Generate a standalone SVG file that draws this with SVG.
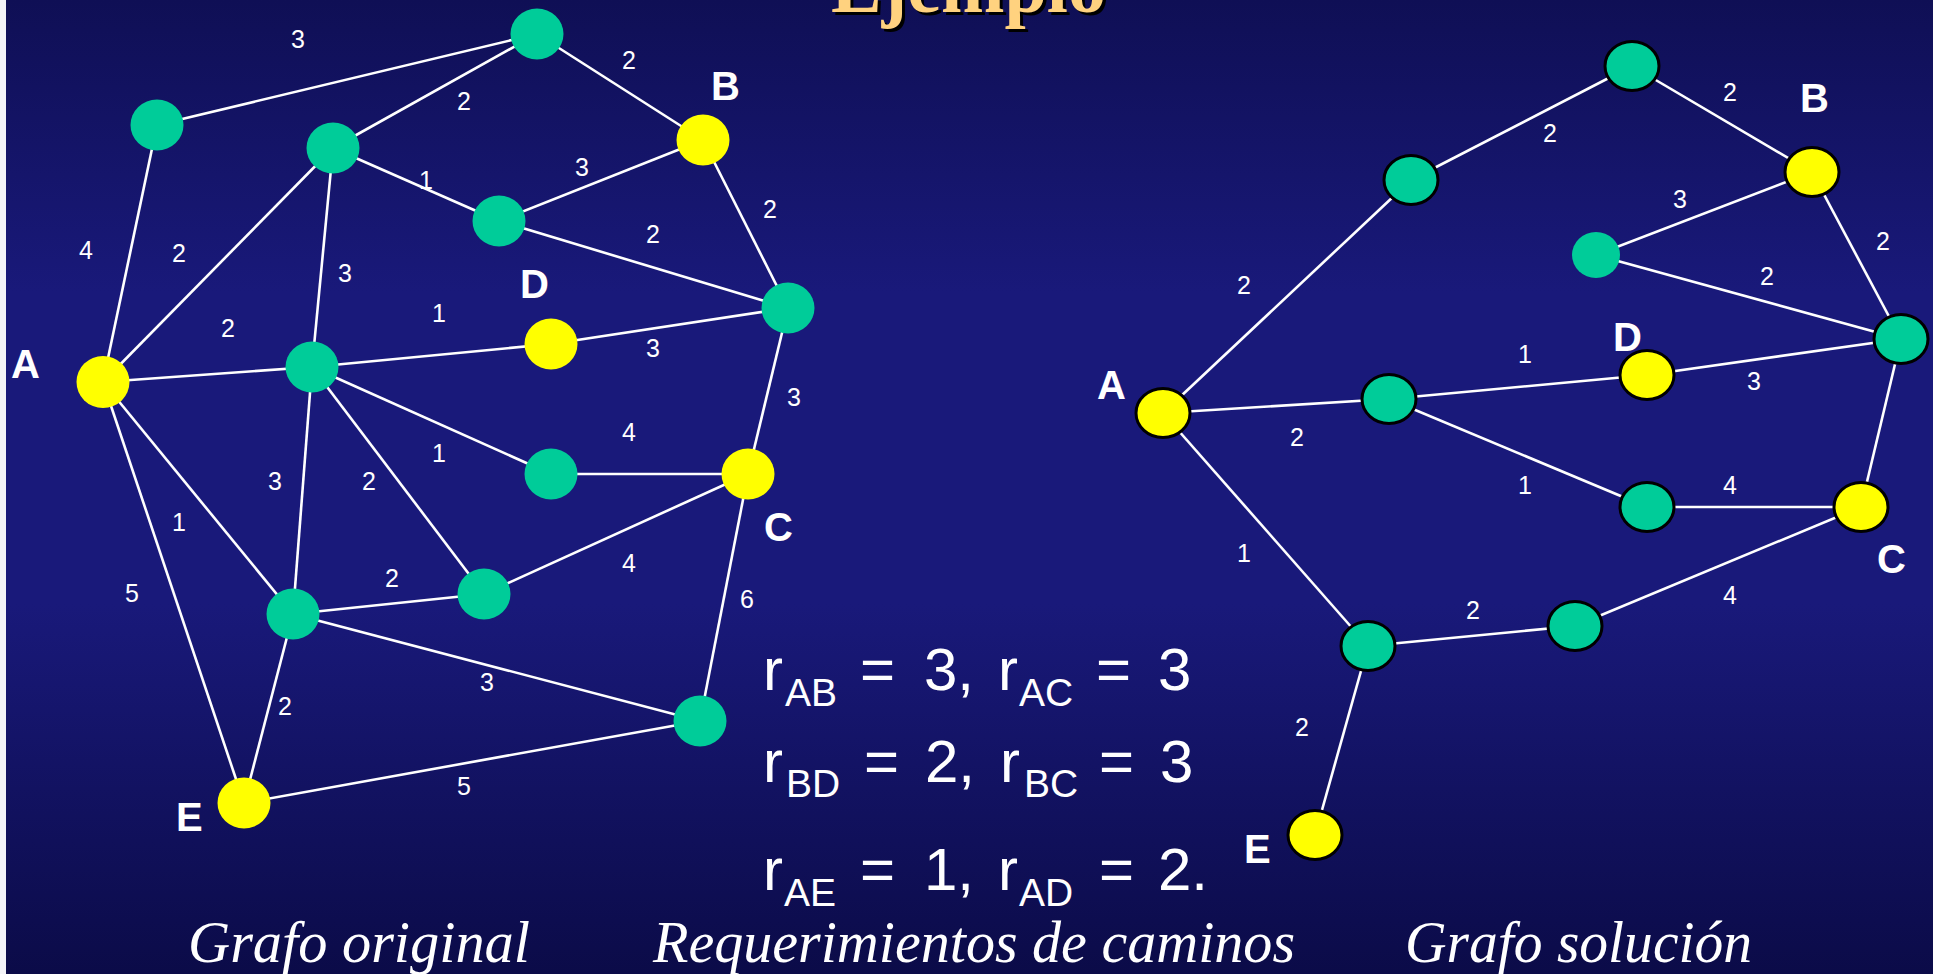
<svg xmlns="http://www.w3.org/2000/svg" width="1933" height="974" viewBox="0 0 1933 974">
<defs>
<linearGradient id="bg" x1="0" y1="0" x2="0" y2="1">
<stop offset="0" stop-color="#0f0f55"/>
<stop offset="0.3" stop-color="#19197a"/>
<stop offset="0.62" stop-color="#19197a"/>
<stop offset="1" stop-color="#0b0b48"/>
</linearGradient>
</defs>
<style>
.e{stroke:#ffffff;stroke-width:2.6;fill:none}
.g{fill:#00cc99}
.y{fill:#ffff00}
.o{stroke:#000000;stroke-width:3}
.w{font-family:"Liberation Sans",Arial,sans-serif;font-size:25px;fill:#ffffff;text-anchor:middle}
.n{font-family:"Liberation Sans",Arial,sans-serif;font-size:40px;font-weight:bold;fill:#ffffff}
.m{font-family:"Liberation Sans",Arial,sans-serif;font-size:60px;fill:#ffffff}
.s{font-size:39px}
.c{font-family:"Liberation Serif","Times New Roman",serif;font-size:60px;font-style:italic;fill:#ffffff}
.t{font-family:"Liberation Serif","Times New Roman",serif;font-size:78px;font-weight:bold}
</style>
<rect x="0" y="0" width="1933" height="974" fill="url(#bg)"/>
<rect x="0" y="0" width="6" height="974" fill="#f4f4f8"/>

<g id="title">
<text class="t" x="834" y="15" textLength="275" lengthAdjust="spacingAndGlyphs" fill="#000000">Ejemplo</text>
<text class="t" x="831" y="12" textLength="275" lengthAdjust="spacingAndGlyphs" fill="#ffd27f">Ejemplo</text>
</g>

<g id="connectors-original">
<line class="e" x1="157" y1="125" x2="537" y2="34"/>
<line class="e" x1="537" y1="34" x2="333" y2="148"/>
<line class="e" x1="537" y1="34" x2="703" y2="140"/>
<line class="e" x1="157" y1="125" x2="103" y2="382"/>
<line class="e" x1="333" y1="148" x2="103" y2="382"/>
<line class="e" x1="333" y1="148" x2="499" y2="221"/>
<line class="e" x1="333" y1="148" x2="312" y2="367"/>
<line class="e" x1="499" y1="221" x2="703" y2="140"/>
<line class="e" x1="499" y1="221" x2="788" y2="308"/>
<line class="e" x1="703" y1="140" x2="788" y2="308"/>
<line class="e" x1="103" y1="382" x2="312" y2="367"/>
<line class="e" x1="312" y1="367" x2="551" y2="344"/>
<line class="e" x1="551" y1="344" x2="788" y2="308"/>
<line class="e" x1="788" y1="308" x2="748" y2="474"/>
<line class="e" x1="312" y1="367" x2="551" y2="474"/>
<line class="e" x1="551" y1="474" x2="748" y2="474"/>
<line class="e" x1="312" y1="367" x2="293" y2="614"/>
<line class="e" x1="312" y1="367" x2="484" y2="594"/>
<line class="e" x1="103" y1="382" x2="293" y2="614"/>
<line class="e" x1="103" y1="382" x2="244" y2="803"/>
<line class="e" x1="293" y1="614" x2="484" y2="594"/>
<line class="e" x1="484" y1="594" x2="748" y2="474"/>
<line class="e" x1="748" y1="474" x2="700" y2="721"/>
<line class="e" x1="293" y1="614" x2="700" y2="721"/>
<line class="e" x1="293" y1="614" x2="244" y2="803"/>
<line class="e" x1="244" y1="803" x2="700" y2="721"/>
</g>

<g id="edge-labels-original">
<text class="w" x="298" y="48">3</text>
<text class="w" x="464" y="110">2</text>
<text class="w" x="629" y="69">2</text>
<text class="w" x="86" y="259">4</text>
<text class="w" x="179" y="262">2</text>
<text class="w" x="426" y="189">1</text>
<text class="w" x="582" y="176">3</text>
<text class="w" x="770" y="218">2</text>
<text class="w" x="653" y="243">2</text>
<text class="w" x="345" y="282">3</text>
<text class="w" x="439" y="322">1</text>
<text class="w" x="228" y="337">2</text>
<text class="w" x="653" y="357">3</text>
<text class="w" x="794" y="406">3</text>
<text class="w" x="629" y="441">4</text>
<text class="w" x="439" y="462">1</text>
<text class="w" x="275" y="490">3</text>
<text class="w" x="369" y="490">2</text>
<text class="w" x="179" y="531">1</text>
<text class="w" x="132" y="602">5</text>
<text class="w" x="392" y="587">2</text>
<text class="w" x="629" y="572">4</text>
<text class="w" x="747" y="608">6</text>
<text class="w" x="487" y="691">3</text>
<text class="w" x="285" y="715">2</text>
<text class="w" x="464" y="795">5</text>
</g>

<g id="L-top"><ellipse class="g" cx="537" cy="34" rx="26.5" ry="25.5"/></g>
<g id="L-left"><ellipse class="g" cx="157" cy="125" rx="26.5" ry="25.5"/></g>
<g id="L-n3"><ellipse class="g" cx="333" cy="148" rx="26.5" ry="25.5"/></g>
<g id="L-B"><ellipse class="y" cx="703" cy="140" rx="26.5" ry="25.5"/><text class="n" x="711" y="100">B</text></g>
<g id="L-n5"><ellipse class="g" cx="499" cy="221" rx="26.5" ry="25.5"/></g>
<g id="L-n6"><ellipse class="g" cx="788" cy="308" rx="26.5" ry="25.5"/></g>
<g id="L-A"><ellipse class="y" cx="103" cy="382" rx="26.5" ry="26"/><text class="n" x="11" y="378">A</text></g>
<g id="L-center"><ellipse class="g" cx="312" cy="367" rx="26.5" ry="25.5"/></g>
<g id="L-D"><ellipse class="y" cx="551" cy="344" rx="26.5" ry="25.5"/><text class="n" x="520" y="298">D</text></g>
<g id="L-n10"><ellipse class="g" cx="551" cy="474" rx="26.5" ry="25.5"/></g>
<g id="L-C"><ellipse class="y" cx="748" cy="474" rx="26.5" ry="25.5"/><text class="n" x="764" y="541">C</text></g>
<g id="L-n12"><ellipse class="g" cx="293" cy="614" rx="26.5" ry="25.5"/></g>
<g id="L-n13"><ellipse class="g" cx="484" cy="594" rx="26.5" ry="25.5"/></g>
<g id="L-n14"><ellipse class="g" cx="700" cy="721" rx="26.5" ry="25.5"/></g>
<g id="L-E"><ellipse class="y" cx="244" cy="803" rx="26.5" ry="25.5"/><text class="n" x="176" y="831">E</text></g>

<g id="connectors-solution">
<line class="e" x1="1163" y1="413" x2="1411" y2="180"/>
<line class="e" x1="1411" y1="180" x2="1632" y2="66"/>
<line class="e" x1="1632" y1="66" x2="1812" y2="172"/>
<line class="e" x1="1812" y1="172" x2="1596" y2="255"/>
<line class="e" x1="1596" y1="255" x2="1901" y2="339"/>
<line class="e" x1="1812" y1="172" x2="1901" y2="339"/>
<line class="e" x1="1163" y1="413" x2="1389" y2="399"/>
<line class="e" x1="1389" y1="399" x2="1647" y2="375"/>
<line class="e" x1="1647" y1="375" x2="1901" y2="339"/>
<line class="e" x1="1901" y1="339" x2="1861" y2="507"/>
<line class="e" x1="1389" y1="399" x2="1647" y2="507"/>
<line class="e" x1="1647" y1="507" x2="1861" y2="507"/>
<line class="e" x1="1163" y1="413" x2="1368" y2="646"/>
<line class="e" x1="1368" y1="646" x2="1575" y2="626"/>
<line class="e" x1="1575" y1="626" x2="1861" y2="507"/>
<line class="e" x1="1368" y1="646" x2="1315" y2="835"/>
</g>

<g id="edge-labels-solution">
<text class="w" x="1244" y="294">2</text>
<text class="w" x="1550" y="142">2</text>
<text class="w" x="1730" y="101">2</text>
<text class="w" x="1680" y="208">3</text>
<text class="w" x="1883" y="250">2</text>
<text class="w" x="1767" y="285">2</text>
<text class="w" x="1525" y="363">1</text>
<text class="w" x="1754" y="390">3</text>
<text class="w" x="1297" y="446">2</text>
<text class="w" x="1525" y="494">1</text>
<text class="w" x="1730" y="494">4</text>
<text class="w" x="1244" y="562">1</text>
<text class="w" x="1473" y="619">2</text>
<text class="w" x="1730" y="604">4</text>
<text class="w" x="1302" y="736">2</text>
</g>

<g id="R-top"><ellipse class="g o" cx="1632" cy="66" rx="27" ry="24.5"/></g>
<g id="R-n2"><ellipse class="g o" cx="1411" cy="180" rx="27" ry="24.5"/></g>
<g id="R-B"><ellipse class="y o" cx="1812" cy="172" rx="27" ry="24.5"/><text class="n" x="1800" y="112">B</text></g>
<g id="R-small"><ellipse class="g" cx="1596" cy="255" rx="24" ry="23"/></g>
<g id="R-right"><ellipse class="g o" cx="1901" cy="339" rx="27" ry="24.5"/></g>
<g id="R-D"><ellipse class="y o" cx="1647" cy="375" rx="27" ry="24.5"/><text class="n" x="1613" y="351">D</text></g>
<g id="R-A"><ellipse class="y o" cx="1163" cy="413" rx="27" ry="24.5"/><text class="n" x="1097" y="399">A</text></g>
<g id="R-n8"><ellipse class="g o" cx="1389" cy="399" rx="27" ry="24.5"/></g>
<g id="R-n9"><ellipse class="g o" cx="1647" cy="507" rx="27" ry="24.5"/></g>
<g id="R-C"><ellipse class="y o" cx="1861" cy="507" rx="27" ry="24.5"/><text class="n" x="1877" y="573">C</text></g>
<g id="R-n11"><ellipse class="g o" cx="1368" cy="646" rx="27" ry="24.5"/></g>
<g id="R-n12"><ellipse class="g o" cx="1575" cy="626" rx="27" ry="24.5"/></g>
<g id="R-E"><ellipse class="y o" cx="1315" cy="835" rx="27" ry="24.5"/><text class="n" x="1244" y="863">E</text></g>

<g id="requirements">
<text class="m"><tspan x="763" y="690">r</tspan><tspan class="s" x="785" y="706">AB</tspan><tspan x="860" y="690">=</tspan><tspan x="924" y="690">3,</tspan><tspan x="998" y="690">r</tspan><tspan class="s" x="1019" y="706">AC</tspan><tspan x="1096" y="690">=</tspan><tspan x="1158" y="690">3</tspan></text>
<text class="m"><tspan x="763" y="782">r</tspan><tspan class="s" x="786" y="797">BD</tspan><tspan x="864" y="782">=</tspan><tspan x="925" y="782">2,</tspan><tspan x="1000" y="782">r</tspan><tspan class="s" x="1024" y="797">BC</tspan><tspan x="1099" y="782">=</tspan><tspan x="1160" y="782">3</tspan></text>
<text class="m"><tspan x="763" y="890">r</tspan><tspan class="s" x="784" y="906">AE</tspan><tspan x="860" y="890">=</tspan><tspan x="924" y="890">1,</tspan><tspan x="998" y="890">r</tspan><tspan class="s" x="1019" y="906">AD</tspan><tspan x="1099" y="890">=</tspan><tspan x="1158" y="890">2.</tspan></text>
</g>

<g id="captions">
<text class="c" x="188" y="962" textLength="342" lengthAdjust="spacingAndGlyphs">Grafo original</text>
<text class="c" x="653" y="962" textLength="642" lengthAdjust="spacingAndGlyphs">Requerimientos de caminos</text>
<text class="c" x="1405" y="962" textLength="347" lengthAdjust="spacingAndGlyphs">Grafo solución</text>
</g>
</svg>
